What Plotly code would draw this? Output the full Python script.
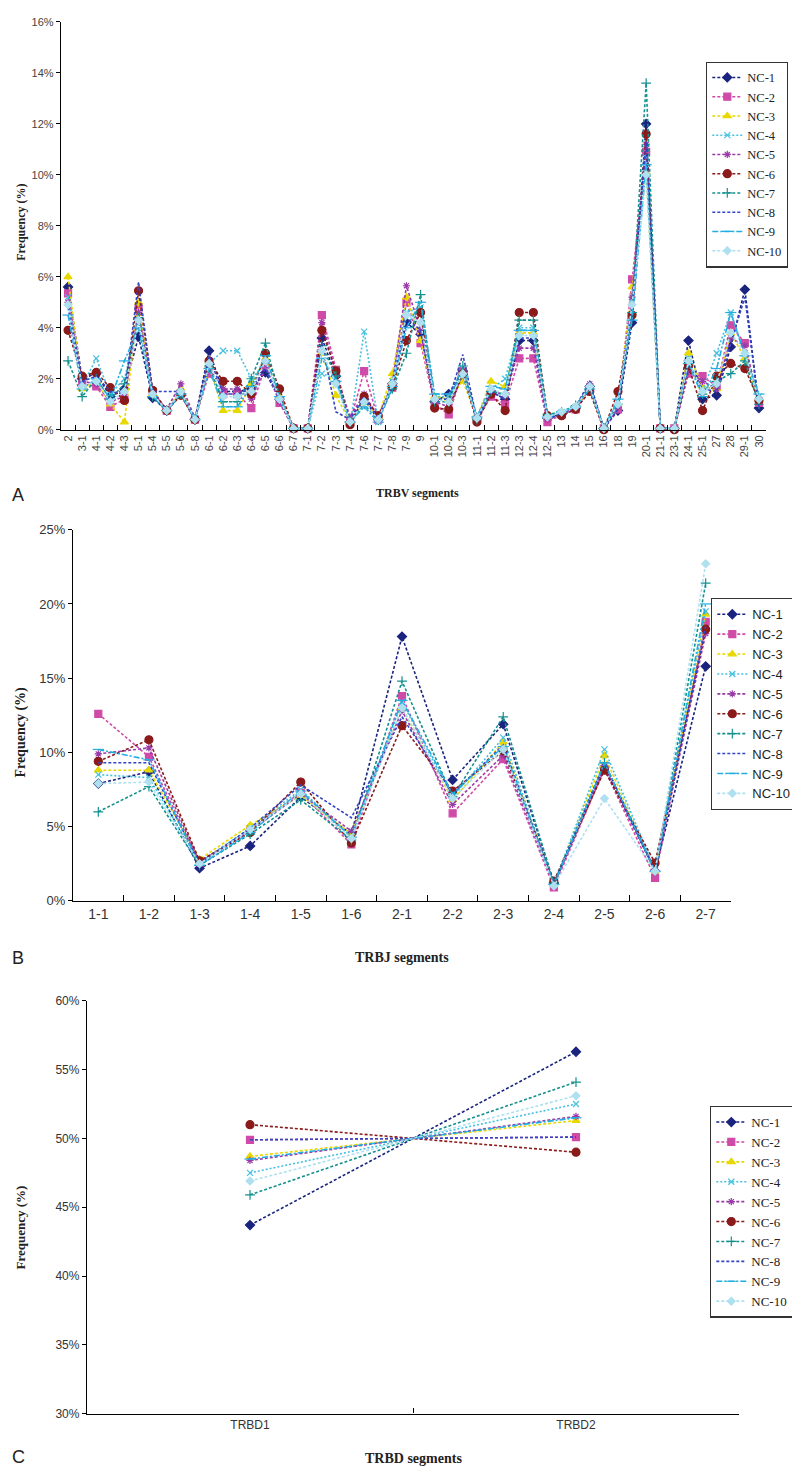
import plotly.graph_objects as go

# ---------------- data ----------------
series_names = ["NC-1", "NC-2", "NC-3", "NC-4", "NC-5", "NC-6", "NC-7", "NC-8", "NC-9", "NC-10"]

trbv_segments = ["2", "3-1", "4-1", "4-2", "4-3", "5-1", "5-4", "5-5", "5-6", "5-8",
                 "6-1", "6-2", "6-3", "6-4", "6-5", "6-6", "6-7", "7-1", "7-2", "7-3",
                 "7-4", "7-6", "7-7", "7-8", "7-9", "9", "10-1", "10-2", "10-3", "11-1",
                 "11-2", "11-3", "12-3", "12-4", "12-5", "13", "14", "15", "16", "18",
                 "19", "20-1", "21-1", "23-1", "24-1", "25-1", "27", "28", "29-1", "30"]

trbv_nc1 = [5.6, 2.0, 2.2, 1.3, 1.6, 3.65, 1.25, 0.75, 1.4, 0.4, 3.1, 1.5, 1.5, 1.6, 2.25, 1.2, 0.05, 0.05, 3.6, 2.1,
            0.3, 1.2, 0.4, 1.8, 4.2, 3.75, 1.1, 1.4, 2.3, 0.45, 1.5, 1.2, 3.5, 3.5, 0.45, 0.6, 0.85, 1.7, 0.05, 0.75,
            4.2, 12.0, 0.05, 0.05, 3.5, 1.2, 1.35, 3.25, 5.5, 0.85]
trbv_nc2 = [5.35, 1.8, 1.7, 0.9, 1.2, 4.8, 1.5, 0.75, 1.4, 0.4, 2.2, 1.4, 1.4, 0.85, 2.5, 1.05, 0.05, 0.05, 4.5, 2.35,
            0.3, 2.3, 0.4, 1.65, 5.0, 3.4, 1.0, 0.6, 2.3, 0.4, 1.3, 1.0, 2.8, 2.8, 0.3, 0.6, 0.8, 1.6, 0.05, 0.8,
            5.9, 10.9, 0.05, 0.05, 2.2, 2.1, 1.7, 4.1, 3.4, 1.05]
trbv_nc3 = [6.0, 1.6, 1.9, 1.0, 0.3, 5.0, 1.4, 0.75, 1.6, 0.4, 2.5, 0.75, 0.75, 1.8, 2.8, 1.3, 0.05, 0.05, 3.0, 1.35,
            0.3, 1.1, 0.5, 2.2, 5.2, 3.5, 1.3, 1.2, 1.9, 0.5, 1.9, 1.7, 3.8, 3.8, 0.5, 0.7, 0.9, 1.6, 0.05, 1.0,
            5.6, 10.1, 0.05, 0.05, 3.0, 1.7, 1.6, 3.8, 2.8, 1.2]
trbv_nc4 = [5.2, 1.7, 2.8, 1.4, 2.0, 4.2, 1.4, 0.75, 1.5, 0.4, 2.6, 3.1, 3.1, 2.0, 2.6, 1.2, 0.05, 0.05, 2.2, 2.0,
            0.2, 3.85, 0.3, 1.9, 4.6, 4.8, 1.3, 1.3, 2.4, 0.5, 1.6, 2.0, 4.0, 4.0, 0.5, 0.7, 0.9, 1.7, 0.05, 1.1,
            5.0, 10.7, 0.05, 0.05, 2.8, 1.5, 3.0, 4.6, 3.0, 1.3]
trbv_nc5 = [5.0, 1.9, 1.8, 1.1, 1.3, 4.6, 1.5, 0.8, 1.8, 0.45, 2.4, 1.6, 1.6, 1.2, 2.6, 1.1, 0.05, 0.05, 4.2, 2.2,
            0.5, 1.4, 0.5, 1.8, 5.65, 3.9, 1.1, 0.9, 2.2, 0.45, 1.6, 1.3, 3.2, 3.2, 0.4, 0.6, 0.85, 1.8, 0.05, 0.9,
            5.2, 11.2, 0.05, 0.05, 2.3, 1.9, 1.6, 3.6, 3.3, 1.1]
trbv_nc6 = [3.9, 2.1, 2.25, 1.65, 1.15, 5.45, 1.55, 0.75, 1.35, 0.4, 2.7, 1.9, 1.9, 1.4, 3.0, 1.6, 0.05, 0.05, 3.9, 2.3,
            0.2, 1.3, 0.55, 1.7, 3.5, 4.6, 0.85, 0.8, 2.2, 0.3, 1.4, 0.75, 4.6, 4.6, 0.55, 0.55, 0.8, 1.5, 0.0, 1.5,
            4.5, 11.6, 0.05, 0.0, 2.5, 0.75, 2.1, 2.6, 2.4, 1.15]
trbv_nc7 = [2.7, 1.3, 2.0, 1.2, 1.8, 4.4, 1.3, 0.75, 1.4, 0.4, 2.5, 1.1, 1.1, 2.0, 3.4, 1.3, 0.05, 0.05, 3.3, 2.1,
            0.3, 1.0, 0.4, 1.6, 3.0, 5.3, 1.1, 1.1, 2.5, 0.4, 1.5, 1.4, 4.3, 4.3, 0.6, 0.7, 0.95, 1.7, 0.05, 1.0,
            4.6, 13.6, 0.05, 0.05, 2.7, 1.4, 1.9, 2.2, 2.7, 1.0]
trbv_nc8 = [4.8, 1.9, 2.1, 1.5, 1.4, 5.8, 1.5, 1.5, 1.5, 0.4, 2.9, 1.4, 1.4, 1.6, 2.4, 1.2, 0.05, 0.05, 3.4, 0.7,
            0.4, 1.3, 0.4, 1.8, 4.4, 3.9, 1.2, 1.2, 2.95, 0.4, 1.5, 1.2, 3.6, 3.6, 0.4, 0.65, 0.9, 1.9, 0.05, 0.8,
            4.8, 11.3, 0.05, 0.05, 2.6, 1.6, 1.5, 3.4, 5.2, 0.9]
trbv_nc9 = [4.5, 1.6, 2.0, 1.2, 2.7, 4.0, 1.3, 0.75, 1.4, 0.4, 2.4, 0.9, 0.9, 1.7, 2.9, 1.3, 0.05, 0.05, 2.8, 1.9,
            0.3, 0.9, 0.3, 1.7, 4.0, 5.0, 1.4, 1.4, 2.1, 0.5, 1.7, 1.6, 3.9, 3.9, 0.5, 0.7, 0.9, 1.6, 0.05, 1.2,
            4.3, 10.4, 0.05, 0.05, 2.6, 1.3, 2.4, 4.6, 2.9, 1.4]
trbv_nc10 = [4.9, 1.7, 1.9, 1.1, 1.5, 4.3, 1.4, 0.75, 1.5, 0.4, 2.6, 1.3, 1.3, 1.5, 2.7, 1.2, 0.05, 0.05, 3.1, 1.8,
             0.3, 1.1, 0.4, 1.8, 4.5, 4.2, 1.2, 1.1, 2.2, 0.45, 1.6, 1.4, 3.7, 3.7, 0.5, 0.7, 0.9, 1.7, 0.05, 1.0,
             4.9, 10.0, 0.05, 0.05, 2.7, 1.5, 1.8, 3.8, 3.0, 1.2]

trbj_segments = ["1-1", "1-2", "1-3", "1-4", "1-5", "1-6", "2-1", "2-2", "2-3", "2-4", "2-5", "2-6", "2-7"]
trbj_nc1 = [7.9, 8.7, 2.2, 3.7, 7.0, 4.5, 17.8, 8.15, 11.9, 1.2, 9.0, 2.0, 15.8]
trbj_nc2 = [12.6, 9.7, 2.6, 4.8, 7.3, 3.8, 13.8, 5.9, 9.55, 0.9, 8.9, 1.55, 18.8]
trbj_nc3 = [8.8, 8.8, 2.8, 5.1, 7.1, 4.5, 13.0, 6.8, 10.7, 1.1, 9.8, 2.0, 19.3]
trbj_nc4 = [8.5, 8.3, 2.6, 4.9, 7.5, 4.3, 13.4, 7.0, 11.0, 1.1, 10.2, 2.1, 19.5]
trbj_nc5 = [9.9, 10.3, 2.6, 4.7, 7.2, 4.7, 12.8, 6.5, 9.8, 1.1, 9.0, 2.1, 18.0]
trbj_nc6 = [9.4, 10.85, 2.7, 4.6, 8.0, 3.9, 11.8, 7.4, 10.1, 1.33, 8.8, 2.55, 18.3]
trbj_nc7 = [6.0, 7.7, 2.4, 4.5, 6.8, 4.1, 14.8, 7.0, 12.4, 1.2, 9.3, 2.0, 21.4]
trbj_nc8 = [9.3, 9.3, 2.5, 4.9, 7.8, 5.6, 12.4, 7.2, 10.5, 1.1, 9.3, 2.0, 18.5]
trbj_nc9 = [10.2, 9.5, 2.4, 4.6, 7.4, 4.3, 13.5, 7.2, 10.4, 1.1, 9.3, 2.0, 20.0]
trbj_nc10 = [7.9, 8.0, 2.5, 4.8, 7.2, 4.2, 13.0, 6.9, 10.2, 1.0, 6.9, 2.0, 22.7]

trbd_segments = ["TRBD1", "TRBD2"]
trbd_nc1 = [43.7, 56.3]
trbd_nc2 = [49.9, 50.1]
trbd_nc3 = [48.7, 51.3]
trbd_nc4 = [47.5, 52.5]
trbd_nc5 = [48.4, 51.6]
trbd_nc6 = [51.0, 49.0]
trbd_nc7 = [45.9, 54.1]
trbd_nc8 = [49.9, 50.1]
trbd_nc9 = [48.5, 51.5]
trbd_nc10 = [46.9, 53.1]

trbv_all = [trbv_nc1, trbv_nc2, trbv_nc3, trbv_nc4, trbv_nc5, trbv_nc6, trbv_nc7, trbv_nc8, trbv_nc9, trbv_nc10]
trbj_all = [trbj_nc1, trbj_nc2, trbj_nc3, trbj_nc4, trbj_nc5, trbj_nc6, trbj_nc7, trbj_nc8, trbj_nc9, trbj_nc10]
trbd_all = [trbd_nc1, trbd_nc2, trbd_nc3, trbd_nc4, trbd_nc5, trbd_nc6, trbd_nc7, trbd_nc8, trbd_nc9, trbd_nc10]

# ---------------- styles ----------------
colors = ["#1a237e", "#d04aa8", "#e8d800", "#45c0e0", "#9a3aa8", "#8b1a1a", "#13918f", "#3344c4", "#22aee0", "#aee0f0"]
symbols = ["diamond", "square", "triangle-up", "x-thin-open", "asterisk-open", "circle",
           "cross-thin-open", "circle", "line-ew-open", "diamond"]
msizes = [7, 7, 7, 6, 6, 8, 7, 0, 8, 6]
dashes = ["3px,2px", "3px,2px", "3px,2px", "2px,2px", "3px,2px", "3px,2px",
          "3px,2px", "3px,2px", "6px,2px,2px,2px", "3px,2px"]

W, H = 800, 1473
def px_x(a, b):
    return [a / W, b / W]
def px_y(top, bottom):
    return [1 - bottom / H, 1 - top / H]

fig = go.Figure()
panels = [
    (trbv_segments, trbv_all, "x", "y", "legend"),
    (trbj_segments, trbj_all, "x2", "y2", "legend2"),
    (trbd_segments, trbd_all, "x3", "y3", "legend3"),
]
for cats, data, xa, ya, lg in panels:
    for i, name in enumerate(series_names):
        mode = "lines+markers" if msizes[i] > 0 else "lines"
        fig.add_trace(go.Scatter(
            x=cats, y=data[i], name=name, mode=mode,
            xaxis=xa, yaxis=ya, legend=lg, cliponaxis=False,
            line=dict(color=colors[i], width=1.6, dash=dashes[i]),
            marker=dict(symbol=symbols[i], size=max(msizes[i], 1), color=colors[i],
                        line=dict(color=colors[i], width=1.2)),
        ))

tickfont_family = "Liberation Sans Narrow, Liberation Sans, Arial"
axis_common = dict(showline=True, linecolor="black", linewidth=1.3, showgrid=False, zeroline=False,
                   mirror=False)

legend_common = dict(bgcolor="white", bordercolor="#333", borderwidth=1.3,
                     xanchor="left", yanchor="top", tracegroupgap=0, itemwidth=30,
                     font=dict(family="Liberation Serif", size=13, color="#222"))

fig.update_layout(
    width=W, height=H, margin=dict(l=0, r=0, t=0, b=0),
    plot_bgcolor="white", paper_bgcolor="white", showlegend=True,
    xaxis=dict(domain=px_x(53, 758), anchor="y", type="category", range=[-0.5, 49.5],
               ticks="inside", tickson="boundaries", ticklen=5, tickcolor="black",
               tickangle=-90, tickfont=dict(family=tickfont_family, size=11, color="#444"), **axis_common),
    yaxis=dict(domain=px_y(7, 419), anchor="x", range=[0, 16], dtick=2, ticksuffix="%",
               ticks="outside", ticklen=4, tickcolor="black",
               tickfont=dict(family=tickfont_family, size=11, color="#444"), **axis_common),
    xaxis2=dict(domain=px_x(65, 723), anchor="y2", type="category", range=[-0.5, 12.5],
                ticks="inside", tickson="boundaries", ticklen=6, tickcolor="black",
                tickfont=dict(family=tickfont_family, size=14, color="#333"), **axis_common),
    yaxis2=dict(domain=px_y(520, 895), anchor="x2", range=[0, 25], dtick=5, ticksuffix="%",
                ticks="outside", ticklen=4, tickcolor="black",
                tickfont=dict(family=tickfont_family, size=13, color="#333"), **axis_common),
    xaxis3=dict(domain=px_x(79, 731), anchor="y3", type="category", range=[-0.5, 1.5],
                ticks="inside", tickson="boundaries", ticklen=5, tickcolor="black",
                tickfont=dict(family=tickfont_family, size=12, color="#333"), **axis_common),
    yaxis3=dict(domain=px_y(996, 1413), anchor="x3", range=[30, 60], dtick=5, ticksuffix="%",
                ticks="outside", ticklen=4, tickcolor="black",
                tickfont=dict(family=tickfont_family, size=12, color="#333"), **axis_common),
    legend=dict(x=698 / W, y=1 - 47 / H, **{**legend_common, "font": dict(family="Liberation Serif", size=12.5, color="#222")}),
    legend2=dict(x=703 / W, y=1 - 589 / H, **{**legend_common, "font": dict(family="Liberation Sans", size=13, color="#222")}),
    legend3=dict(x=702 / W, y=1 - 1102 / H, **legend_common),
)

title_font = dict(family="Liberation Serif, DejaVu Serif", color="#222")
def ann(text, x, y, size, angle=0, bold=True, family=None):
    f = dict(title_font)
    f["size"] = size
    if family:
        f["family"] = family
    fig.add_annotation(text=("<b>%s</b>" % text) if bold else text, x=x / W, y=1 - y / H,
                       xref="paper", yref="paper", showarrow=False, textangle=angle,
                       xanchor="center", yanchor="middle", font=f)

ann("Frequency (%)", 13, 210, 12, angle=-90)
ann("TRBV segments", 410, 483, 12)
ann("Frequency (%)", 13, 725, 14, angle=-90)
ann("TRBJ segments", 394, 952, 14)
ann("Frequency (%)", 13, 1225, 13, angle=-90)
ann("TRBD segments", 406, 1458, 14)
ann("A", 10, 485, 18, bold=False, family="Liberation Sans, Arial")
ann("B", 10, 953, 18, bold=False, family="Liberation Sans, Arial")
ann("C", 10, 1457, 18, bold=False, family="Liberation Sans, Arial")

fig.write_html("out.html")
